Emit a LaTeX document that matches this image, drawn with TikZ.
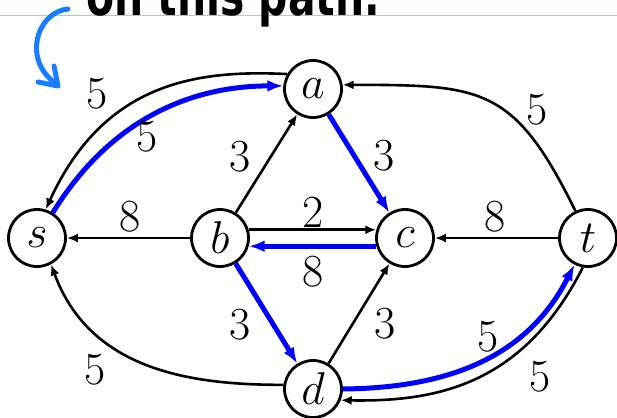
\documentclass[tikz,border=0pt]{standalone}
\usepackage{fontspec}
\DeclareFontShape{OML}{cmm}{m}{it}{<->cmmi12}{}
\newfontfamily\handfont{DejaVu Sans}
\usetikzlibrary{arrows.meta}
\definecolor{pathblue}{RGB}{0,0,255}
\definecolor{inkblue}{RGB}{25,125,255}
\definecolor{ruleblue}{RGB}{176,196,222}
\begin{document}
\begin{tikzpicture}[x=1pt,y=-1pt,
  vtx/.style={circle,draw,line width=2.8pt,minimum size=57pt,inner sep=0pt,font=\fontsize{46}{46}\selectfont},
  lab/.style={font=\fontsize{46}{46}\selectfont,inner sep=0pt},
  edge/.style={line width=2.6pt,-{Latex[length=11pt,width=9pt]}},
  flow/.style={line width=5pt,pathblue,-{Latex[length=16pt,width=12pt]}},
  ink/.style={line width=5pt,inkblue,line cap=round,line join=round}]
\useasboundingbox (0,0) rectangle (617,417);
\clip (0,0) rectangle (617,417);
% header remnants
\draw[ruleblue,line width=1.6pt] (0,15.5) -- (617,15.5);
\node[anchor=base west,inner sep=0pt,font=\handfont\bfseries\fontsize{56}{56}\selectfont] (hdr) at (86,16) {\scalebox{0.73}[1]{on this path.}};
\draw[ink] (68,9) .. controls (36,12) and (22,62) .. (57,84);
\draw[ink] (38,82) -- (58,86) -- (54,66);
% vertices
\node[vtx] (s) at (37,238) {$s$};
\node[vtx] (b) at (220,238) {$b$};
\node[vtx] (c) at (405,238) {$c$};
\node[vtx] (t) at (588,238) {$t$};
\node[vtx] (a) at (313,89) {$a$};
\node[vtx] (d) at (313,389) {$d$};
% straight edges
\draw[edge] (b) -- (s);
\draw[edge] (b) -- (a);
\draw[edge] (d) -- (c);
\draw[edge] (t) -- (c);
\draw[edge] (b.16) -- (c.164);
\draw[flow] (c.196) -- (b.-16);
\draw[flow] (a) -- (c);
\draw[flow] (b) -- (d);
% curved edges
\draw[edge] (a.150) .. controls (200,70) and (105,80) .. (s.73);
\draw[flow] (s.58) .. controls (110,120) and (190,86) .. (a.174);
\draw[edge] (t.115) .. controls (514,86) and (482,85) .. (a.8);
\draw[edge] (d.172) .. controls (190,385) and (90,370) .. (s.-62);
\draw[edge] (t.-100) .. controls (524,383) and (440,402) .. (d.-22);
\draw[flow] (d.0) .. controls (440,388) and (525,362) .. (t.-117);
% labels
\node[lab] (l1) at (97,94) {5};
\node[lab] (l2) at (147,137) {5};
\node[lab] (l3) at (240,157) {3};
\node[lab] (l4) at (130,217) {8};
\node[lab] (l5) at (313,212) {2};
\node[lab] (l6) at (313,272) {8};
\node[lab] (l7) at (384,156) {3};
\node[lab] (l8) at (495,217) {8};
\node[lab] (l9) at (537,110) {5};
\node[lab] (l10) at (240,325) {3};
\node[lab] (l11) at (385,324) {3};
\node[lab] (l12) at (488,337) {5};
\node[lab] (l13) at (540,377) {5};
\node[lab] (l14) at (95,370) {5};
\end{tikzpicture}
\end{document}
